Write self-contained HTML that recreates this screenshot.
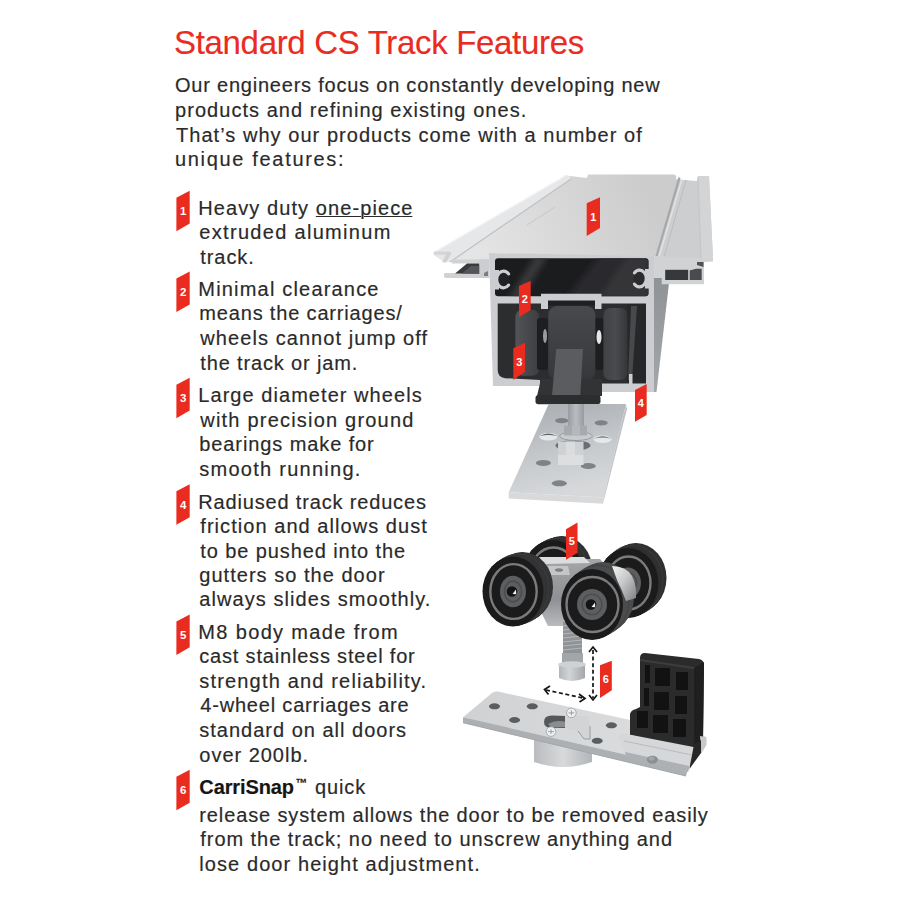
<!DOCTYPE html>
<html><head><meta charset="utf-8"><style>
html,body{margin:0;padding:0;background:#fff;}
body{width:900px;height:900px;position:relative;overflow:hidden;font-family:"Liberation Sans",sans-serif;color:#2a2a2a;}
.l{position:absolute;white-space:nowrap;line-height:30px;height:30px;font-size:20.0px;-webkit-text-stroke:0.18px #2a2a2a;}
.title{font-size:33.0px;color:#ea2b1f;-webkit-text-stroke:0.15px #ea2b1f;}
.c6 b{font-weight:bold;}
.tm{font-size:12px;font-weight:bold;vertical-align:7px;letter-spacing:0;margin-left:1.5px;margin-right:1px;color:#151515}
u{text-decoration:underline;text-decoration-thickness:1px;text-underline-offset:1px;}
svg{position:absolute;left:0;top:0;}
</style></head><body>
<svg width="900" height="900" viewBox="0 0 900 900">
<defs>
<linearGradient id="gTop" x1="0" y1="0" x2="1" y2="0.3">
<stop offset="0" stop-color="#dfe0e2"/><stop offset="0.5" stop-color="#d6d8da"/><stop offset="1" stop-color="#e4e5e7"/>
</linearGradient>
<linearGradient id="gTop2" gradientUnits="userSpaceOnUse" x1="470" y1="250" x2="640" y2="175">
<stop offset="0" stop-color="#e5e5e6"/><stop offset="0.55" stop-color="#d7d7d8"/><stop offset="1" stop-color="#cccccd"/>
</linearGradient>
<linearGradient id="gUp" x1="0" y1="0" x2="1" y2="0">
<stop offset="0" stop-color="#1e1f21"/><stop offset="0.5" stop-color="#3b3c3f"/><stop offset="1" stop-color="#555659"/>
</linearGradient>
<linearGradient id="gLow" x1="0" y1="0" x2="1" y2="0">
<stop offset="0" stop-color="#232426"/><stop offset="0.6" stop-color="#3a3b3e"/><stop offset="1" stop-color="#2a2b2d"/>
</linearGradient>
<linearGradient id="gSide" x1="0" y1="0" x2="0" y2="1">
<stop offset="0" stop-color="#8c8f93"/><stop offset="1" stop-color="#a4a7aa"/>
</linearGradient>
<linearGradient id="gPlate" x1="0" y1="0" x2="0.3" y2="1">
<stop offset="0" stop-color="#a6aaae"/><stop offset="0.6" stop-color="#c6c9cc"/><stop offset="1" stop-color="#d6d8da"/>
</linearGradient>
<linearGradient id="gBody" x1="0" y1="0" x2="0" y2="1">
<stop offset="0" stop-color="#a4a6a8"/><stop offset="0.6" stop-color="#8e9093"/><stop offset="1" stop-color="#b9bbbd"/>
</linearGradient>
<linearGradient id="gBP" x1="0" y1="0" x2="1" y2="0">
<stop offset="0" stop-color="#cfd1d3"/><stop offset="1" stop-color="#dfe0e2"/>
</linearGradient>
<linearGradient id="gCyl" x1="0" y1="0" x2="1" y2="0">
<stop offset="0" stop-color="#b9bbbe"/><stop offset="0.5" stop-color="#d7d9db"/><stop offset="1" stop-color="#b3b6b9"/>
</linearGradient>
<linearGradient id="gWheel" x1="0" y1="0" x2="1" y2="0">
<stop offset="0" stop-color="#3a3b3d"/><stop offset="0.5" stop-color="#4c4d50"/><stop offset="1" stop-color="#38393b"/>
</linearGradient>
<linearGradient id="gCol" x1="0" y1="0" x2="1" y2="0">
<stop offset="0" stop-color="#b3b6b9"/><stop offset="0.4" stop-color="#d2d4d6"/><stop offset="1" stop-color="#a4a7aa"/>
</linearGradient>
<clipPath id="cpUp"><rect x="495" y="258.3" width="153.5" height="38" rx="3"/></clipPath>
<filter id="blur3" x="-20%" y="-20%" width="140%" height="140%"><feGaussianBlur stdDeviation="3"/></filter>
<linearGradient id="gWL" x1="0" y1="0" x2="1" y2="0"><stop offset="0" stop-color="#535457"/><stop offset="1" stop-color="#3c3d40"/></linearGradient>
<linearGradient id="gWR" x1="0" y1="0" x2="1" y2="0"><stop offset="0" stop-color="#414245"/><stop offset="0.5" stop-color="#4a4b4e"/><stop offset="1" stop-color="#353638"/></linearGradient>
<linearGradient id="gWM" x1="0" y1="0" x2="0" y2="1"><stop offset="0" stop-color="#48494c"/><stop offset="1" stop-color="#37383a"/></linearGradient>
<linearGradient id="gRod" x1="0" y1="0" x2="1" y2="0"><stop offset="0" stop-color="#989ca0"/><stop offset="0.5" stop-color="#b9bdc1"/><stop offset="1" stop-color="#979b9f"/></linearGradient>
<linearGradient id="gAx" x1="0" y1="0" x2="1" y2="1"><stop offset="0" stop-color="#f2f2f2"/><stop offset="0.45" stop-color="#c9cacb"/><stop offset="1" stop-color="#7d7f81"/></linearGradient>
</defs>

<!-- ============ TRACK ============ -->
<!-- top surface -->
<path d="M434,252 L566,175.5 L570,176 L587,178 L588,174.6 L674,174.6 Q677,175 676,179 L690,181 L697,181 L698,176 L709,176 L713,259 L656,257 L489,253 L489,260 L446,262 L434,255 Z" fill="url(#gTop2)"/>
<!-- left rail -->
<path d="M434,252 L565,175.5 Q570,175 571,178.5 L450,262 L444,262 L434,255 Z" fill="#e6e7e8"/>
<path d="M434.5,252 L565,176" stroke="#f4f4f5" stroke-width="1.2"/>
<path d="M450,262 L571,179" stroke="#bfc1c4" stroke-width="1.2"/>
<path d="M527,225 L555,207" stroke="#bfc1c4" stroke-width="0.8"/>
<!-- right groove & rib -->
<path d="M683,180 L697,181 L700,259 L660,257 Z" fill="#cdcecf"/>
<path d="M678.5,177 L655.5,256 L657.5,256 L680.5,178 Z" fill="#a4a6a9"/>
<path d="M682,179 L659,257" stroke="#e4e5e6" stroke-width="1.3"/>
<path d="M686,180 L664,257" stroke="#b9bbbe" stroke-width="1"/>
<path d="M698,176 L709,176 L713,259 L701,259 Z" fill="#d3d4d5"/>
<path d="M698,177 L701,259" stroke="#c3c5c8" stroke-width="1"/>
<!-- left flange -->
<rect x="433.5" y="251.5" width="17.5" height="3.2" rx="1.5" fill="#d3d5d7"/>
<path d="M447.5,252 L451.5,253 L446,262.8 L442,262 Z" fill="#cfd1d3"/>
<path d="M452,259.8 L489,259 L489,263.6 L452,263.6 Z" fill="#d0d2d4"/>
<path d="M444,273.6 Q444,273 446,273 L482,273.6 L482,278 L446,278 Q444,278 444,276 Z" fill="#cfd1d3"/>
<path d="M455,273.6 L467,263.6 L479.5,263.6 L479.5,273.8 Z" fill="#393a3d"/>
<path d="M462,273.6 L471,266 L479.5,266 L479.5,273.8 Z" fill="#55565a"/>
<path d="M479.5,259.5 L489.5,259.5 L489.5,278 L479.5,278 Z" fill="#cbcdd0"/>
<path d="M484,273 L488,271 L488,276 L484,276 Z" fill="#7a7c80"/>
<!-- right side face -->
<path d="M653,262 L668,262 L669,283 L656.5,392 L653,392 Z" fill="url(#gSide)"/>
<!-- right flange -->
<path d="M654,256 L713,259 L713,261.5 L704,262 L704,284.2 L661.7,284.2 L661.7,278 L654,278 Z" fill="#d0d2d4"/>
<rect x="665.2" y="269.8" width="23" height="10.2" fill="#37383b"/>
<path d="M689.7,270.5 L696,268.7 L701.7,268.7 L701.7,280 L689.7,280 Z" fill="#4a4b4e"/>
<path d="M697,262 L703.5,262 L703.5,267 L697,265 Z" fill="#505154"/>
<!-- front face frame -->
<path d="M489,253 L654,256 L654,392 L602,392 L602,388 L540,388 L540,386 L493,386 Z" fill="#cbcdd0"/>
<!-- upper chamber -->
<rect x="495" y="258.3" width="153.5" height="38" rx="3" fill="#1b1c1e"/>
<g clip-path="url(#cpUp)">
<g filter="url(#blur3)">
<path d="M508,300 L536,255 L548,255 L520,300 Z" fill="#3a3b3e"/>
<path d="M565,300 L600,255 L650,255 L650,300 Z" fill="#2b2c2e"/>
<path d="M598,300 L628,255 L650,255 L650,300 Z" fill="#343538"/>
</g>
</g>
<!-- C clips -->
<rect x="494" y="270" width="5" height="19.5" fill="#cbcdd0"/>
<ellipse cx="503.5" cy="279.5" rx="6.2" ry="7" fill="#202123"/>
<path d="M508.55,273.88 A6.8,8.4 0 1 0 508.55,285.12" fill="none" stroke="#cbcdd0" stroke-width="3.2" stroke-linecap="round"/>
<rect x="645" y="269" width="5" height="19.5" fill="#cbcdd0"/>
<ellipse cx="639.5" cy="278.5" rx="6.2" ry="7" fill="#2a2b2d"/>
<path d="M634.45,272.88 A6.8,8.4 0 1 1 634.45,284.12" fill="none" stroke="#cbcdd0" stroke-width="3.2" stroke-linecap="round"/>
<!-- lower chamber -->
<path d="M497.7,303.6 L646,303.6 L646,383.6 L602,383.6 L602,388 L540,388 L540,380 L505,378.2 Q497.7,377 497.7,370 Z" fill="#2c2d2f"/>
<path d="M627,304 L646,304 L646,383 L627,383 Z" fill="#262729"/>
<path d="M631,306 L637,306 L632,380 L628,380 Z" fill="#48494c"/>
<rect x="629" y="374" width="3.5" height="12" fill="#cbcdd0"/>
<!-- C channel -->
<path d="M541,293.8 L601.5,293.8 L601.5,309 L595,309 L595,300.5 L548,300.5 L548,309 L541,309 Z" fill="#cbcdd0"/>
<rect x="548" y="300.5" width="47" height="5" fill="#1f2022"/>
<!-- wheels in track -->
<rect x="515.4" y="309.8" width="24" height="66" rx="7" fill="url(#gWL)"/>
<rect x="537" y="318" width="11" height="52" rx="3" fill="#1d1e20"/>
<rect x="595" y="318" width="9" height="52" rx="3" fill="#1d1e20"/>
<rect x="603.4" y="308" width="24" height="72" rx="7" fill="url(#gWR)"/>
<rect x="548.3" y="306" width="47" height="74" rx="9" fill="url(#gWM)"/>
<ellipse cx="545" cy="336" rx="2" ry="7" fill="#9a9c9f"/>
<ellipse cx="599" cy="337" rx="2.5" ry="7" fill="#e6e6e6"/>
<!-- hanger -->
<path d="M541,379 L602,379 L602,396 L537,396 Z" fill="#323335"/>
<path d="M556.3,349 L583,349 L580.3,395 L552,395 Z" fill="#5b5c5f"/>
<path d="M538,395.3 L598,395.3 Q600.5,395.3 600.5,398 L600.5,401.5 Q600.5,404.3 597.5,404.3 L538.5,404.3 Q535.5,404.3 535.5,401.5 L535.5,398 Q535.5,395.3 538,395.3 Z" fill="#2c2d2f"/>

<!-- ============ HANGER PLATE ============ -->
<path d="M548.7,404 L626,404 L603.8,497.6 L508.7,492.2 Z" fill="url(#gPlate)"/>
<path d="M508.7,492.2 L603.8,497.6 L603,503.8 L508.7,498.4 Z" fill="#d7d9db"/>
<path d="M626,404 L627,409 L603,503.8 L603.8,497.6 Z" fill="#c0c3c6"/>
<g fill="#7f8387">
<ellipse cx="561.7" cy="420.7" rx="6.5" ry="2.6"/>
<ellipse cx="601.2" cy="422.9" rx="6.5" ry="2.6"/>
<ellipse cx="543.4" cy="462.9" rx="7.5" ry="3"/>
<ellipse cx="588.3" cy="466" rx="7.5" ry="3"/>
<ellipse cx="559.3" cy="483.3" rx="7.5" ry="3"/>
</g>
<ellipse cx="548.3" cy="436.7" rx="9" ry="3.8" fill="#e6e7e8"/>
<path d="M539.5,436.2 Q548.3,431 557.2,436.2 Q548.3,433.8 539.5,436.2 Z" fill="#60646a"/>
<ellipse cx="602.6" cy="439.3" rx="9" ry="3.8" fill="#e6e7e8"/>
<path d="M593.8,438.8 Q602.6,433.6 611.5,438.8 Q602.6,436.4 593.8,438.8 Z" fill="#60646a"/>
<ellipse cx="573" cy="445.5" rx="17.5" ry="5.2" fill="#6b6f73"/>
<rect x="568" y="404" width="16" height="22" fill="url(#gRod)"/>
<ellipse cx="576" cy="436" rx="16.4" ry="4.5" fill="#c8cbce" stroke="#8f9397" stroke-width="0.8"/>
<path d="M564,425.5 L587,425.5 L587,435.5 L564,435.5 Z" fill="#a6aaae"/>
<path d="M572,425.5 L580,425.5 L580,435.5 L572,435.5 Z" fill="#b4b8bb"/>
<rect x="558" y="441.5" width="25.5" height="13.5" fill="#cfd2d5"/>
<rect x="566" y="441.5" width="9" height="13.5" fill="#dadcde"/>
<rect x="558" y="455" width="25.5" height="10" fill="#dcdee0"/>

<!-- ============ CARRIAGE ============ -->
<ellipse cx="562.0" cy="571.0" rx="30.5" ry="35" fill="#303031"/>
<ellipse cx="561.1" cy="571.4" rx="30.5" ry="35" fill="#303031"/>
<ellipse cx="560.2" cy="571.8" rx="30.5" ry="35" fill="#303031"/>
<ellipse cx="559.3" cy="572.2" rx="30.5" ry="35" fill="#303031"/>
<ellipse cx="558.4" cy="572.6" rx="30.5" ry="35" fill="#303031"/>
<ellipse cx="557.5" cy="573.0" rx="30.5" ry="35" fill="#303031"/>
<ellipse cx="556.6" cy="573.4" rx="30.5" ry="35" fill="#303031"/>
<ellipse cx="555.7" cy="573.8" rx="30.5" ry="35" fill="#303031"/>
<ellipse cx="554.8" cy="574.2" rx="30.5" ry="35" fill="#303031"/>
<ellipse cx="553.9" cy="574.6" rx="30.5" ry="35" fill="#303031"/>
<ellipse cx="558.0" cy="572.8" rx="30.5" ry="35" fill="none" stroke="#3f3f41" stroke-width="1.2" opacity="0.6"/>
<ellipse cx="553" cy="575" rx="30.5" ry="35" fill="#1b1b1c"/>
<ellipse cx="553.5" cy="575" rx="23.5" ry="27.5" fill="none" stroke="#7a7b7d" stroke-width="2.4"/>
<ellipse cx="553" cy="575" rx="13" ry="15.5" fill="#5d5e60"/>
<ellipse cx="553" cy="575" rx="8.6" ry="10.2" fill="none" stroke="#4c4d4f" stroke-width="1.6"/>
<circle cx="552" cy="575" r="5.3" fill="#141415"/>
<path d="M552.5,577.5 L556,573 L556.3,577.8 Z" fill="#f2f2f2"/>
<ellipse cx="636.0" cy="578.0" rx="30.5" ry="35" fill="#303031"/>
<ellipse cx="635.2" cy="578.5" rx="30.5" ry="35" fill="#303031"/>
<ellipse cx="634.4" cy="579.0" rx="30.5" ry="35" fill="#303031"/>
<ellipse cx="633.6" cy="579.5" rx="30.5" ry="35" fill="#303031"/>
<ellipse cx="632.8" cy="580.0" rx="30.5" ry="35" fill="#303031"/>
<ellipse cx="632.0" cy="580.5" rx="30.5" ry="35" fill="#303031"/>
<ellipse cx="631.2" cy="581.0" rx="30.5" ry="35" fill="#303031"/>
<ellipse cx="630.4" cy="581.5" rx="30.5" ry="35" fill="#303031"/>
<ellipse cx="629.6" cy="582.0" rx="30.5" ry="35" fill="#303031"/>
<ellipse cx="628.8" cy="582.5" rx="30.5" ry="35" fill="#303031"/>
<ellipse cx="632.4" cy="580.2" rx="30.5" ry="35" fill="none" stroke="#3f3f41" stroke-width="1.2" opacity="0.6"/>
<ellipse cx="628" cy="583" rx="30.5" ry="35" fill="#1b1b1c"/>
<ellipse cx="628.5" cy="583" rx="22" ry="26.5" fill="none" stroke="#7a7b7d" stroke-width="2.4"/>
<ellipse cx="628" cy="583" rx="13" ry="15.5" fill="#5d5e60"/>
<ellipse cx="628" cy="583" rx="8.6" ry="10.2" fill="none" stroke="#4c4d4f" stroke-width="1.6"/>
<circle cx="627" cy="583" r="5.3" fill="#141415"/>
<path d="M627.5,585.5 L631,581 L631.3,585.8 Z" fill="#f2f2f2"/>
<path d="M540,559 L600,559 L606,566 L604,582 L566,598 L566,626 L548,626 L541,612 Z" fill="url(#gBody)"/>
<path d="M539,557 L584,557 L590,563 L544,564 Z" fill="#dcdddf"/>
<path d="M548,566 L568,566 L570,575 L550,575 Z" fill="#c4c6c8"/>
<ellipse cx="559" cy="570" rx="4" ry="1.8" fill="#7e8184"/>
<rect x="563" y="622" width="19" height="33" fill="#8f9397"/>
<g stroke="#b4b7ba" stroke-width="1.2"><path d="M563,626 L582,624 M563,630 L582,628 M563,634 L582,632 M563,638 L582,636 M563,642 L582,640 M563,646 L582,644 M563,650 L582,648"/></g>
<rect x="562" y="653" width="21" height="10" fill="#a3a6a9"/>
<path d="M559,666 L585,666 L585,678 Q572,684 559,678 Z" fill="url(#gCol)"/>
<ellipse cx="572" cy="664.5" rx="14" ry="3.2" fill="#cfd1d3"/>
<ellipse cx="522.5" cy="587.0" rx="30.5" ry="35" fill="#343436"/>
<ellipse cx="521.5" cy="587.5" rx="30.5" ry="35" fill="#343436"/>
<ellipse cx="520.6" cy="587.9" rx="30.5" ry="35" fill="#343436"/>
<ellipse cx="519.6" cy="588.4" rx="30.5" ry="35" fill="#343436"/>
<ellipse cx="518.7" cy="588.8" rx="30.5" ry="35" fill="#343436"/>
<ellipse cx="517.8" cy="589.2" rx="30.5" ry="35" fill="#343436"/>
<ellipse cx="516.8" cy="589.7" rx="30.5" ry="35" fill="#343436"/>
<ellipse cx="515.9" cy="590.1" rx="30.5" ry="35" fill="#343436"/>
<ellipse cx="514.9" cy="590.6" rx="30.5" ry="35" fill="#343436"/>
<ellipse cx="514.0" cy="591.0" rx="30.5" ry="35" fill="#343436"/>
<ellipse cx="518.2" cy="589.0" rx="30.5" ry="35" fill="none" stroke="#3f3f41" stroke-width="1.2" opacity="0.6"/>
<ellipse cx="513" cy="591.5" rx="30.5" ry="35" fill="#1b1b1c"/>
<ellipse cx="513.5" cy="591.5" rx="23.2" ry="27.4" fill="none" stroke="#7a7b7d" stroke-width="2.4"/>
<ellipse cx="513" cy="591.5" rx="13" ry="15.8" fill="#5d5e60"/>
<ellipse cx="513" cy="591.5" rx="8.6" ry="10.4" fill="none" stroke="#4c4d4f" stroke-width="1.6"/>
<circle cx="512" cy="591.5" r="5.3" fill="#141415"/>
<path d="M512.5,594.0 L516,589.5 L516.3,594.3 Z" fill="#f2f2f2"/>
<ellipse cx="603.0" cy="597.5" rx="31" ry="35.5" fill="#4b4c4e"/>
<ellipse cx="601.9" cy="598.2" rx="31" ry="35.5" fill="#4b4c4e"/>
<ellipse cx="600.8" cy="598.9" rx="31" ry="35.5" fill="#4b4c4e"/>
<ellipse cx="599.7" cy="599.6" rx="31" ry="35.5" fill="#4b4c4e"/>
<ellipse cx="598.6" cy="600.3" rx="31" ry="35.5" fill="#4b4c4e"/>
<ellipse cx="597.5" cy="601.0" rx="31" ry="35.5" fill="#4b4c4e"/>
<ellipse cx="596.4" cy="601.7" rx="31" ry="35.5" fill="#4b4c4e"/>
<ellipse cx="595.3" cy="602.4" rx="31" ry="35.5" fill="#4b4c4e"/>
<ellipse cx="594.2" cy="603.1" rx="31" ry="35.5" fill="#4b4c4e"/>
<ellipse cx="593.1" cy="603.8" rx="31" ry="35.5" fill="#4b4c4e"/>
<ellipse cx="598.0" cy="600.6" rx="31" ry="35.5" fill="none" stroke="#3f3f41" stroke-width="1.2" opacity="0.6"/>
<path d="M612,566 Q626,566 632,576 Q637,586 636,598 L626,601 Q622,590 617,580 Z" fill="url(#gAx)"/>
<ellipse cx="592" cy="604.5" rx="31" ry="35.5" fill="#1b1b1c"/>
<ellipse cx="592.5" cy="604.5" rx="26" ry="27.5" fill="none" stroke="#7a7b7d" stroke-width="2.4"/>
<ellipse cx="592" cy="604.5" rx="15" ry="15.5" fill="#5d5e60"/>
<ellipse cx="592" cy="604.5" rx="9.9" ry="10.2" fill="none" stroke="#4c4d4f" stroke-width="1.6"/>
<circle cx="591" cy="604.5" r="5.3" fill="#141415"/>
<path d="M591.5,607.0 L595,602.5 L595.3,607.3 Z" fill="#f2f2f2"/>

<!-- ============ BOTTOM PLATE ============ -->
<path d="M534,735 L592,735 L592,762 Q563,772 534,762 Z" fill="url(#gCyl)"/>
<path d="M463,717.3 L492,693 Q495,691 499,691.8 L705,736 L688,769 L615,759 Z" fill="url(#gBP)"/>
<path d="M463,717.3 L688,769 L686,776 L463,722.7 Z" fill="#adb0b3"/>
<path d="M463,722.7 L686,776" stroke="#a3a6a9" stroke-width="1"/>
<g fill="#5b5e61">
<ellipse cx="494.5" cy="706.3" rx="5.5" ry="3"/>
<ellipse cx="532.3" cy="706.3" rx="5.5" ry="3"/>
<ellipse cx="514.6" cy="720" rx="5.5" ry="3"/>
<ellipse cx="611.4" cy="725.3" rx="5.5" ry="3"/>
<ellipse cx="597.2" cy="740.8" rx="5.5" ry="3"/>
</g>
<path d="M544,722 Q544,715.6 552,715.6 L566,716 L569,722 L566,728 L552,728 Q544,728 544,722 Z" fill="#55585b"/>
<path d="M548,724 Q556,719 566,722 L566,727 L552,727.5 Z" fill="#8a8d90"/>
<path d="M565,716 L588,716 L590,726 L590,739 L584,739 L578,731 L565,728 Z" fill="#d2d4d6"/>
<path d="M578,731 L584,739 L590,739 L590,726" fill="none" stroke="#8c8f92" stroke-width="0.8"/>
<circle cx="571.4" cy="712.9" r="4.8" fill="#eeeff0" stroke="#9a9da0" stroke-width="0.8"/>
<path d="M568.5,712.9 L574.3,712.9 M571.4,710.5 L571.4,715.3" stroke="#8a8d90" stroke-width="0.8"/>
<circle cx="551" cy="731.6" r="4.8" fill="#eeeff0" stroke="#9a9da0" stroke-width="0.8"/>
<path d="M548.1,731.6 L553.9,731.6 M551,729.2 L551,734" stroke="#8a8d90" stroke-width="0.8"/>
<!-- black block -->
<path d="M645,653 L699,659 Q704,660 704,665 L703,740 L695,750 L630,735 L630,714 Q631,710 636,709 L640,707 L640,658 Q640,653 645,653 Z" fill="#2b2b2c"/>
<path d="M694,668 L704,662 L703,740 L694,750 Z" fill="#1f1f20"/>
<path d="M640,660 L694,668" stroke="#3d3d3f" stroke-width="2"/>
<g fill="#121213">
<rect x="645" y="665" width="5" height="18"/><rect x="655" y="668" width="15" height="18"/><rect x="676" y="672" width="12" height="18"/>
<rect x="644" y="688" width="5" height="18"/><rect x="654" y="692" width="15" height="18"/><rect x="675" y="696" width="12" height="18"/>
<rect x="637" y="711" width="11" height="17"/><rect x="653" y="715" width="15" height="18"/><rect x="673" y="719" width="13" height="18"/>
</g>
<!-- clip in front of block -->
<path d="M700,736 L706.5,737 L706.5,745 L701,754 Z" fill="#c6c8ca"/>
<path d="M689.4,747 L701,740 L701,753 L689.4,769 Z" fill="#262627"/>
<path d="M619,738 Q619,733 624,733.5 L693.5,747 L689.4,768.6 L688,772 L630,758 Q626,757 624,752 Z" fill="#d5d7d9"/>
<path d="M625,752 L689.4,766 L688,772 L630,759 Q626,757.5 625,752 Z" fill="#aeb1b4"/>
<path d="M624,741 L692,755" stroke="#b9bcbf" stroke-width="1"/>
<ellipse cx="652.4" cy="759.7" rx="5.5" ry="4" fill="#8c8f92"/>
<ellipse cx="651.5" cy="758.5" rx="3" ry="2" fill="#a3a6a9"/>
<!-- dashed arrows -->
<g stroke="#151515" stroke-width="1.7" fill="none">
<path d="M593,650 L593,698" stroke-dasharray="4,2.6"/>
<path d="M546,690 L583,698" stroke-dasharray="4,2.6"/>
<path d="M589,652 L593,647 L597,652"/>
<path d="M589,695 L593,700 L597,695"/>
<path d="M550,686 L544.5,689.5 L548.5,694.5"/>
<path d="M579,694 L585,698.5 L579.5,702"/>
</g>

<!-- ============ ART BADGES ============ -->
<g fill="#ea2b1f">
<path d="M586.7,203.3 L600,197.3 L600,228 L586.7,236 Z"/>
<path d="M519,286 L530.7,280.7 L530.7,310 L519,317.3 Z"/>
<path d="M513.3,348.3 L525,342.7 L525,371.7 L513.3,380 Z"/>
<path d="M635,390 L646.7,384 L646.7,415 L635,421.7 Z"/>
<path d="M566,529.3 L577.5,522.5 L577.5,552.7 L566,559.8 Z"/>
<path d="M600,665.3 L611.8,660.7 L611.8,690.2 L600,698 Z"/>
</g>
<g fill="#fff" font-family="Liberation Sans" font-weight="bold" font-size="11" text-anchor="middle">
<text x="593.4" y="221">1</text>
<text x="524.9" y="303">2</text>
<text x="519.2" y="365.5">3</text>
<text x="640.9" y="406.5">4</text>
<text x="571.8" y="545">5</text>
<text x="605.9" y="683">6</text>
</g>
</svg>

<svg width="900" height="900" viewBox="0 0 900 900"><polygon points="176.4,197.7 189.7,190.7 189.7,223.6 176.4,231.2" fill="#ea2b1f"/><text x="183.2" y="214.9" font-size="11.5" font-weight="bold" fill="#fff" text-anchor="middle" font-family="Liberation Sans">1</text><polygon points="176.4,278.6 189.7,271.6 189.7,304.5 176.4,312.1" fill="#ea2b1f"/><text x="183.2" y="295.8" font-size="11.5" font-weight="bold" fill="#fff" text-anchor="middle" font-family="Liberation Sans">2</text><polygon points="176.4,384.7 189.7,377.7 189.7,410.6 176.4,418.2" fill="#ea2b1f"/><text x="183.2" y="401.9" font-size="11.5" font-weight="bold" fill="#fff" text-anchor="middle" font-family="Liberation Sans">3</text><polygon points="176.4,491.3 189.7,484.3 189.7,517.2 176.4,524.8" fill="#ea2b1f"/><text x="183.2" y="508.5" font-size="11.5" font-weight="bold" fill="#fff" text-anchor="middle" font-family="Liberation Sans">4</text><polygon points="176.4,621.4 189.7,614.4 189.7,647.3 176.4,654.9" fill="#ea2b1f"/><text x="183.2" y="638.6" font-size="11.5" font-weight="bold" fill="#fff" text-anchor="middle" font-family="Liberation Sans">5</text><polygon points="176.4,776.8 189.7,769.8 189.7,802.7 176.4,810.3" fill="#ea2b1f"/><text x="183.2" y="794.0" font-size="11.5" font-weight="bold" fill="#fff" text-anchor="middle" font-family="Liberation Sans">6</text></svg>
<div class="l title" style="left:174.0px;top:28.4px;letter-spacing:-0.32px">Standard CS Track Features</div><div class="l" style="left:175.0px;top:70.2px;letter-spacing:0.779px">Our engineers focus on constantly developing new</div><div class="l" style="left:175.0px;top:95.2px;letter-spacing:1.046px">products and refining existing ones.</div><div class="l" style="left:176.0px;top:120.0px;letter-spacing:1.043px">That’s why our products come with a number of</div><div class="l" style="left:175.0px;top:144.3px;letter-spacing:1.673px">unique features:</div><div class="l" style="left:198.3px;top:192.9px;letter-spacing:1.084px">Heavy duty <u>one-piec<span style="letter-spacing:0">e</span></u></div><div class="l" style="left:199.3px;top:217.3px;letter-spacing:1.312px">extruded aluminum</div><div class="l" style="left:200.3px;top:241.5px;letter-spacing:0.92px">track.</div><div class="l" style="left:198.3px;top:273.8px;letter-spacing:1.188px">Minimal clearance</div><div class="l" style="left:199.3px;top:298.2px;letter-spacing:0.832px">means the carriages/</div><div class="l" style="left:200.3px;top:322.9px;letter-spacing:1.076px">wheels cannot jump off</div><div class="l" style="left:200.3px;top:347.5px;letter-spacing:0.85px">the track or jam.</div><div class="l" style="left:198.3px;top:379.9px;letter-spacing:1.05px">Large diameter wheels</div><div class="l" style="left:200.3px;top:404.7px;letter-spacing:1.205px">with precision ground</div><div class="l" style="left:199.3px;top:429.3px;letter-spacing:0.9px">bearings make for</div><div class="l" style="left:199.3px;top:454.0px;letter-spacing:1.264px">smooth running.</div><div class="l" style="left:198.3px;top:486.5px;letter-spacing:0.833px">Radiused track reduces</div><div class="l" style="left:200.3px;top:511.0px;letter-spacing:1.052px">friction and allows dust</div><div class="l" style="left:200.3px;top:535.5px;letter-spacing:0.905px">to be pushed into the</div><div class="l" style="left:199.3px;top:559.8px;letter-spacing:1.028px">gutters so the door</div><div class="l" style="left:199.3px;top:584.3px;letter-spacing:1.073px">always slides smoothly.</div><div class="l" style="left:198.3px;top:616.6px;letter-spacing:1.35px">M8 body made from</div><div class="l" style="left:199.3px;top:641.4px;letter-spacing:0.813px">cast stainless steel for</div><div class="l" style="left:199.3px;top:666.0px;letter-spacing:1.171px">strength and reliability.</div><div class="l" style="left:200.3px;top:690.3px;letter-spacing:0.805px">4-wheel carriages are</div><div class="l" style="left:199.3px;top:714.9px;letter-spacing:1.0px">standard on all doors</div><div class="l" style="left:199.3px;top:739.6px;letter-spacing:0.98px">over 200lb.</div><div class="l c6" style="left:199.3px;top:768.0px;letter-spacing:0.9px"><b style="letter-spacing:-0.1px;color:#151515">CarriSnap</b><span class="tm">™</span> quick</div><div class="l" style="left:199.3px;top:799.5px;letter-spacing:0.876px">release system allows the door to be removed easily</div><div class="l" style="left:200.3px;top:824.2px;letter-spacing:0.95px">from the track; no need to unscrew anything and</div><div class="l" style="left:199.3px;top:848.8px;letter-spacing:1.081px">lose door height adjustment.</div>
</body></html>
